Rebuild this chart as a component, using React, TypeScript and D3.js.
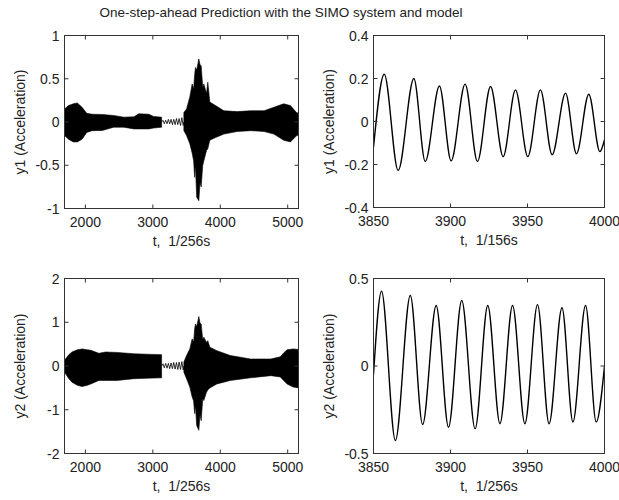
import React from 'react';
import * as d3 from 'd3';

// ---- data ----
const TITLE = 'One-step-ahead Prediction with the SIMO system and model';

const LONG_DOMAIN = [1690, 5160];
const LONG_TICKS = [2000, 3000, 4000, 5000];
const ZOOM_DOMAIN = [3850, 4000];
const ZOOM_TICKS = [3850, 3900, 3950, 4000];

const Y1_TICKS = [-1, -0.5, 0, 0.5, 1];
const Y2_TICKS = [-2, -1, 0, 1, 2];
const Y1Z_TICKS = [-0.4, -0.2, 0, 0.2, 0.4];
const Y2Z_TICKS = [-0.5, 0, 0.5];

// y1, long record: envelope of the dense response (before / after the quiet gap)
const y1PreT = [1690, 1750, 1820, 1880, 1950, 2020, 2100, 2250, 2420, 2570, 2720, 2790, 2940, 3010, 3130];
const y1PreUp = [0.15, 0.19, 0.21, 0.22, 0.17, 0.1, 0.09, 0.087, 0.075, 0.056, 0.06, 0.095, 0.09, 0.065, 0.056];
const y1PreLo = [-0.156, -0.2, -0.23, -0.23, -0.2, -0.12, -0.1, -0.098, -0.06, -0.06, -0.08, -0.08, -0.08, -0.07, -0.06];
const y1QuietT = [3130, 3150, 3170, 3190, 3210, 3230, 3250, 3270, 3290, 3310, 3330, 3350, 3370, 3390, 3410, 3430, 3450, 3460];
const y1QuietV = [0.0, 0.02, -0.02, 0.02, -0.02, 0.03, -0.02, 0.03, -0.03, 0.03, -0.03, 0.04, -0.03, 0.04, -0.04, 0.05, -0.04, 0.0];
const y1PostT = [3460, 3500, 3548, 3583, 3605, 3620, 3632, 3650, 3682, 3700, 3717, 3740, 3756, 3796, 3815, 3845, 3930, 4053, 4250, 4450, 4650, 4795, 4940, 5040, 5130, 5160];
const y1PostUp = [0.11, 0.15, 0.29, 0.44, 0.38, 0.55, 0.63, 0.6, 0.73, 0.66, 0.65, 0.4, 0.44, 0.33, 0.46, 0.23, 0.19, 0.13, 0.12, 0.13, 0.13, 0.17, 0.21, 0.19, 0.11, 0.1];
const y1PostLo = [-0.1, -0.156, -0.25, -0.36, -0.45, -0.64, -0.5, -0.87, -0.91, -0.7, -0.75, -0.5, -0.45, -0.33, -0.31, -0.21, -0.18, -0.14, -0.11, -0.1, -0.11, -0.14, -0.21, -0.23, -0.16, -0.15];

// y2, long record
const y2PreT = [1690, 1750, 1800, 1880, 1950, 2030, 2080, 2200, 2300, 2470, 2720, 2900, 3130];
const y2PreUp = [0.13, 0.25, 0.32, 0.37, 0.39, 0.37, 0.36, 0.29, 0.32, 0.31, 0.28, 0.27, 0.26];
const y2PreLo = [-0.14, -0.28, -0.37, -0.44, -0.47, -0.44, -0.41, -0.33, -0.33, -0.33, -0.29, -0.28, -0.27];
const y2QuietT = [3130, 3150, 3170, 3190, 3210, 3230, 3250, 3270, 3290, 3310, 3330, 3350, 3370, 3390, 3410, 3430, 3450, 3460];
const y2QuietV = [0.0, 0.05, -0.04, 0.06, -0.05, 0.06, -0.06, 0.07, -0.06, 0.08, -0.07, 0.08, -0.08, 0.09, -0.08, 0.1, -0.09, 0.0];
const y2PostT = [3460, 3500, 3548, 3583, 3605, 3620, 3632, 3650, 3682, 3700, 3717, 3740, 3756, 3796, 3815, 3845, 3950, 4150, 4450, 4750, 4890, 4940, 4990, 5080, 5160];
const y2PostUp = [0.09, 0.24, 0.39, 0.62, 0.55, 0.85, 0.96, 0.9, 1.13, 0.98, 0.96, 0.6, 0.66, 0.54, 0.58, 0.43, 0.35, 0.24, 0.16, 0.16, 0.21, 0.3, 0.37, 0.39, 0.38];
const y2PostLo = [-0.14, -0.29, -0.48, -0.71, -0.8, -1.09, -0.9, -1.36, -1.47, -1.1, -1.25, -0.75, -0.79, -0.6, -0.55, -0.5, -0.41, -0.33, -0.27, -0.22, -0.25, -0.33, -0.41, -0.48, -0.5];

// zoomed windows: peaks / troughs of the oscillation
const y1ZoomT = [3850, 3857, 3866, 3876.2, 3883.6, 3892.8, 3900.4, 3909.5, 3917.5, 3926, 3934.2, 3942.2, 3950.2, 3958.4, 3966, 3974.7, 3981.8, 3989.8, 3997, 4000];
const y1ZoomV = [-0.12, 0.22, -0.228, 0.2, -0.186, 0.165, -0.183, 0.174, -0.186, 0.163, -0.163, 0.147, -0.163, 0.147, -0.155, 0.132, -0.15, 0.127, -0.14, -0.085];
const y2ZoomT = [3850, 3855.2, 3864.2, 3873.9, 3881.9, 3890.7, 3898.7, 3907.3, 3916, 3924.2, 3932.1, 3940.3, 3948.3, 3956.5, 3964, 3972.4, 3979.5, 3987.7, 3994.6, 4000];
const y2ZoomV = [-0.05, 0.427, -0.426, 0.403, -0.334, 0.346, -0.35, 0.374, -0.359, 0.346, -0.33, 0.346, -0.33, 0.351, -0.33, 0.333, -0.32, 0.346, -0.32, 0.0];

const FONT = '"Liberation Sans", Arial, Helvetica, sans-serif';
const INK = '#222';

interface Band { t: number[]; up: number[]; lo: number[] }

interface PanelProps {
  left: number; right: number; top: number; bottom: number;
  xDomain: number[]; xTicks: number[];
  yDomain: number[]; yTicks: number[];
  yLabel: string; xLabel: string;
  bands?: Band[];
  lines?: { t: number[]; v: number[]; w: number; curve: d3.CurveFactory }[];
}

const fmt = (d: number) => (d === 0 ? '0' : String(d));

const Panel: React.FC<PanelProps> = (p) => {
  const x = d3.scaleLinear().domain(p.xDomain).range([p.left, p.right]);
  const y = d3.scaleLinear().domain(p.yDomain).range([p.bottom, p.top]);
  const tk = 4;
  const clipId = `clip-${Math.round(p.left)}-${Math.round(p.top)}`;

  return (
    <g>
      <defs>
        <clipPath id={clipId}>
          <rect x={p.left} y={p.top} width={p.right - p.left} height={p.bottom - p.top} />
        </clipPath>
      </defs>
      <g clipPath={`url(#${clipId})`}>
        {(p.bands || []).map((b, k) => {
          const a = d3.area<number>()
            .x((_, i) => x(b.t[i]))
            .y0((_, i) => y(b.lo[i]))
            .y1((_, i) => y(b.up[i]))
            .curve(d3.curveLinear);
          return <path key={k} d={a(b.t) || ''} fill="#000" stroke="#000" strokeWidth={0.6} />;
        })}
        {(p.lines || []).map((l, k) => {
          const ln = d3.line<number>()
            .x((_, i) => x(l.t[i]))
            .y((_, i) => y(l.v[i]))
            .curve(l.curve);
          return <path key={k} d={ln(l.t) || ''} fill="none" stroke="#000" strokeWidth={l.w} strokeLinejoin="round" />;
        })}
      </g>
      <rect x={p.left} y={p.top} width={p.right - p.left} height={p.bottom - p.top}
        fill="none" stroke="#333" strokeWidth={1} />
      {p.xTicks.map(t => (
        <g key={`x${t}`}>
          <line x1={x(t)} x2={x(t)} y1={p.bottom} y2={p.bottom - tk} stroke="#333" />
          <line x1={x(t)} x2={x(t)} y1={p.top} y2={p.top + tk} stroke="#333" />
          <text x={x(t)} y={p.bottom + 18} textAnchor="middle" fontSize={14} fill={INK}>{fmt(t)}</text>
        </g>
      ))}
      {p.yTicks.map(t => (
        <g key={`y${t}`}>
          <line x1={p.left} x2={p.left + tk} y1={y(t)} y2={y(t)} stroke="#333" />
          <line x1={p.right} x2={p.right - tk} y1={y(t)} y2={y(t)} stroke="#333" />
          <text x={p.left - 5} y={y(t)} dy="0.36em" textAnchor="end" fontSize={14} fill={INK}>{fmt(t)}</text>
        </g>
      ))}
      <text x={(p.left + p.right) / 2} y={p.bottom + 37} textAnchor="middle" fontSize={14} fill={INK}
        style={{ whiteSpace: 'pre' }}>{p.xLabel}</text>
      <text transform={`translate(${p.left - 40},${(p.top + p.bottom) / 2}) rotate(-90)`}
        textAnchor="middle" fontSize={14} fill={INK}>{p.yLabel}</text>
    </g>
  );
};

export default function App() {
  return (
    <svg width={619} height={500} style={{ position: 'absolute', left: 0, top: 0, background: '#fff' }}
      fontFamily={FONT}>
      <rect width={619} height={500} fill="#fff" />
      <text x={281} y={17} textAnchor="middle" fontSize={13.5} fill={INK}>{TITLE}</text>

      <Panel left={64.5} right={298.5} top={35.5} bottom={208.5}
        xDomain={LONG_DOMAIN} xTicks={LONG_TICKS} yDomain={[-1, 1]} yTicks={Y1_TICKS}
        yLabel="y1 (Acceleration)" xLabel="t,  1/256s"
        bands={[{ t: y1PreT, up: y1PreUp, lo: y1PreLo }, { t: y1PostT, up: y1PostUp, lo: y1PostLo }]}
        lines={[{ t: y1QuietT, v: y1QuietV, w: 0.8, curve: d3.curveLinear }]} />

      <Panel left={373.5} right={604.5} top={35.5} bottom={207.5}
        xDomain={ZOOM_DOMAIN} xTicks={ZOOM_TICKS} yDomain={[-0.4, 0.4]} yTicks={Y1Z_TICKS}
        yLabel="y1 (Acceleration)" xLabel="t,  1/156s"
        lines={[{ t: y1ZoomT, v: y1ZoomV, w: 1.4, curve: d3.curveMonotoneX }]} />

      <Panel left={64.5} right={298.5} top={278.5} bottom={453.5}
        xDomain={LONG_DOMAIN} xTicks={LONG_TICKS} yDomain={[-2, 2]} yTicks={Y2_TICKS}
        yLabel="y2 (Acceleration)" xLabel="t,  1/256s"
        bands={[{ t: y2PreT, up: y2PreUp, lo: y2PreLo }, { t: y2PostT, up: y2PostUp, lo: y2PostLo }]}
        lines={[{ t: y2QuietT, v: y2QuietV, w: 0.8, curve: d3.curveLinear }]} />

      <Panel left={373.5} right={604.5} top={278.5} bottom={453.5}
        xDomain={ZOOM_DOMAIN} xTicks={ZOOM_TICKS} yDomain={[-0.5, 0.5]} yTicks={Y2Z_TICKS}
        yLabel="y2 (Acceleration)" xLabel="t,  1/256s"
        lines={[{ t: y2ZoomT, v: y2ZoomV, w: 1.4, curve: d3.curveMonotoneX }]} />
    </svg>
  );
}
